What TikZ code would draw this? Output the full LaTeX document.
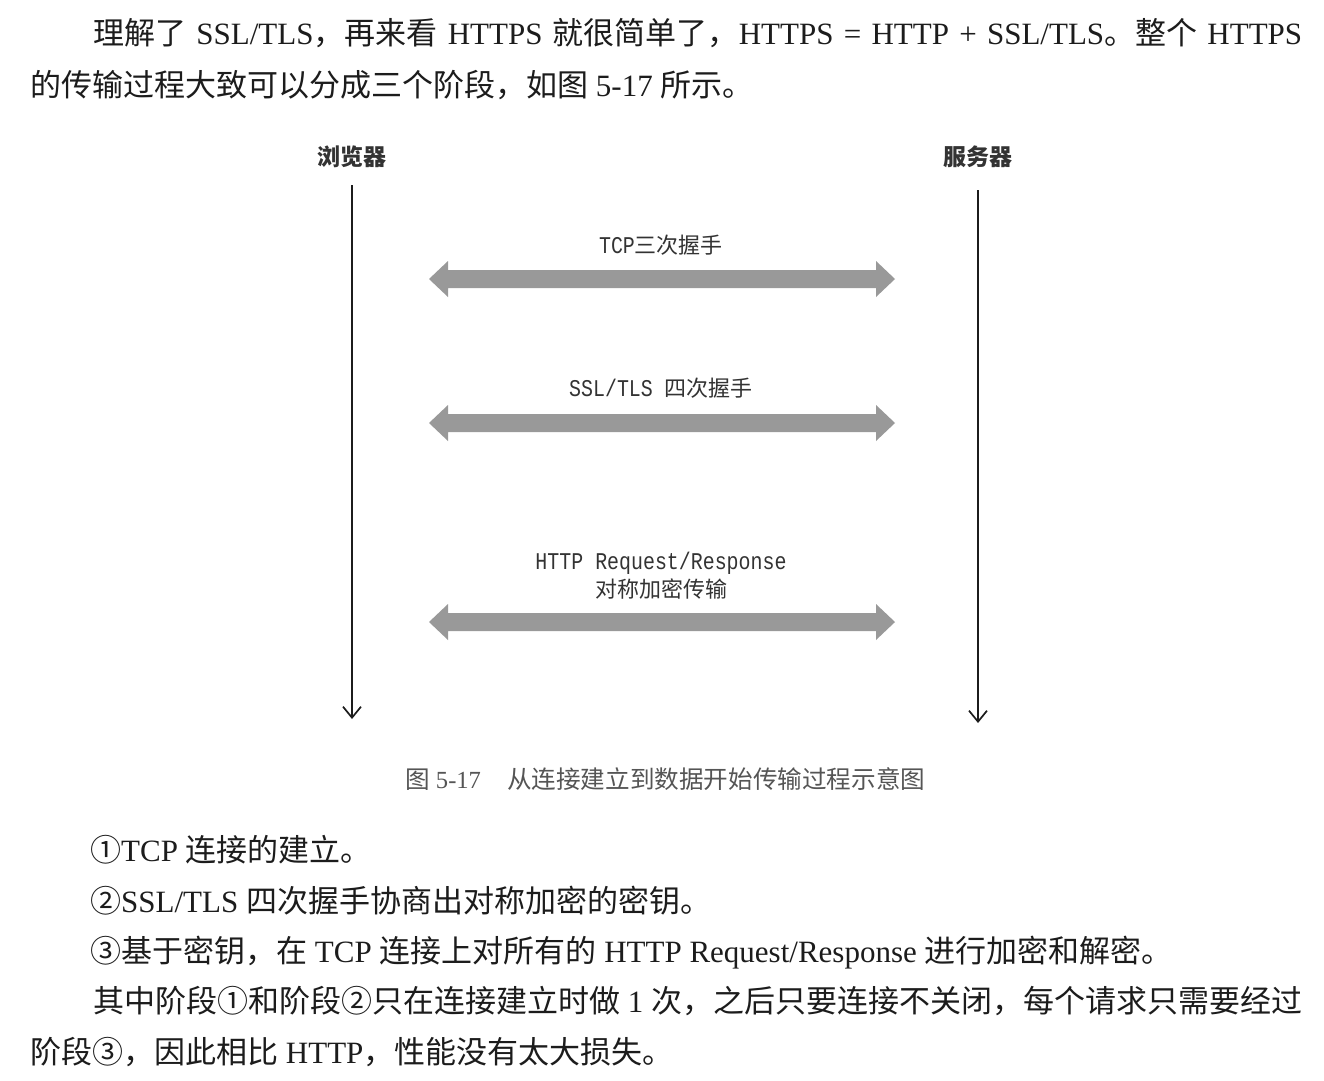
\documentclass[tikz,border=0pt]{standalone}
\usepackage{fontspec}
\usetikzlibrary{arrows.meta}
\setmainfont{Liberation Serif}
\newfontfamily\zhfont{Noto Sans CJK SC}
\newfontfamily\monofont[FakeStretch=0.83]{Liberation Mono}
\newcommand\zh[1]{{\zhfont #1}}
\definecolor{ink}{HTML}{1C1C1C}
\definecolor{lbl}{HTML}{333333}
\definecolor{cap}{HTML}{555555}
\definecolor{band}{HTML}{999999}
\tikzset{
  body/.style={anchor=base west, inner sep=0pt, text=ink, font=\fontsize{31}{36}\selectfont},
  lifelabel/.style={anchor=base, inner sep=0pt, text=lbl, font=\fontsize{23}{28}\selectfont\zhfont\bfseries},
  msglabel/.style={anchor=base, inner sep=0pt, text=lbl, font=\fontsize{24}{28}\selectfont\monofont},
  captext/.style={anchor=base west, inner sep=0pt, text=cap, font=\fontsize{24.6}{28}\selectfont},
  lifeline/.style={draw=ink, line width=1.7pt, -{Straight Barb[length=11pt,width=18pt,line width=1.7pt]}},
  garrow/.style={fill=band, draw=none}
}
\newcommand\garrowat[1]{%
  \fill[garrow] (429,#1) -- (448,#1-18) -- (448,#1-9) -- (876,#1-9) -- (876,#1-18)
    -- (895,#1) -- (876,#1+18) -- (876,#1+9) -- (448,#1+9) -- (448,#1+18) -- cycle;}
\begin{document}
\begin{tikzpicture}[x=1pt,y=-1pt]
\useasboundingbox[fill=white] (0,0) rectangle (1324,1080);
% body text top
\node[body] (l1) at (93,44) {\makebox[1209pt][s]{\zh{理解了} SSL/TLS\zh{，再来看} HTTPS \zh{就很简单了，}HTTPS = HTTP + SSL/TLS\zh{。整个} HTTPS}};
\node[body] (l2) at (30,96) {\zh{的传输过程大致可以分成三个阶段，如图} 5-17 \zh{所示。}};
% lifelines
\node[lifelabel] (browser) at (352,165) {浏览器};
\node[lifelabel] (server) at (978,165) {服务器};
\coordinate (bt) at (352,185);
\coordinate (bb) at (352,719);
\coordinate (st) at (978,190);
\coordinate (sb) at (978,723);
\draw[lifeline] (bt) -- (bb);
\draw[lifeline] (st) -- (sb);
% messages
\node[msglabel] (m1) at (661,253) {TCP\zh{\fontsize{22}{26}\selectfont 三次握手}};
\garrowat{279}
\node[msglabel] (m2) at (661,396) {SSL/TLS \zh{\fontsize{22}{26}\selectfont 四次握手}};
\garrowat{423}
\node[msglabel] (m3a) at (661,569) {HTTP Request/Response};
\node[msglabel] (m3b) at (661,597) {\zh{\fontsize{22}{26}\selectfont 对称加密传输}};
\garrowat{622}
% caption
\node[captext] (caption) at (405,788) {\zh{图} 5-17\hspace{26pt}\zh{从连接建立到数据开始传输过程示意图}};
% body text bottom
\node[body] (l3) at (90,861) {\zh{①}TCP \zh{连接的建立。}};
\node[body] (l4) at (90,912) {\zh{②}SSL/TLS \zh{四次握手协商出对称加密的密钥。}};
\node[body] (l5) at (90,962) {\zh{③基于密钥，在} TCP \zh{连接上对所有的} HTTP Request/Response \zh{进行加密和解密。}};
\node[body] (l6) at (93,1012) {\makebox[1209pt][s]{\zh{其中阶段①和阶段②只在连接建立时做} 1 \zh{次，之后只要连接不关闭，每个请求只需要经过}}};
\node[body] (l7) at (30,1063) {\zh{阶段③，因此相比} HTTP\zh{，性能没有太大损失。}};
\end{tikzpicture}
\end{document}
